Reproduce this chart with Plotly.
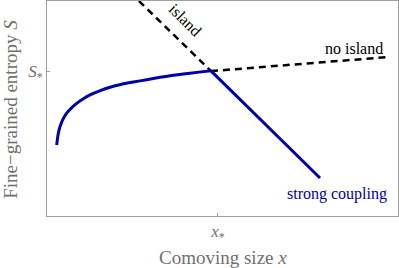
import plotly.graph_objects as go

# Blue curve (weak coupling growth)
curve_x = [0.276, 0.30, 0.33, 0.370, 0.45, 0.561, 0.70, 0.846, 1.025, 1.225, 1.50, 1.795, 2.10, 2.459, 2.84, 3.219, 3.55, 3.883, 4.27, 4.664]
curve_y = [3.30, 3.62, 3.90, 4.15, 4.48, 4.78, 5.03, 5.24, 5.44, 5.63, 5.82, 5.99, 6.12, 6.23, 6.34, 6.45, 6.53, 6.60, 6.68, 6.76]
# Strong coupling line
strong_x = [4.664, 7.778]
strong_y = [6.76, 1.77]
# Island dashed line
island_x = [2.62, 4.672]
island_y = [10.0, 6.74]
# No island dashed line
noisland_x = [4.672, 9.772]
noisland_y = [6.74, 7.40]

x_star = 4.87
s_star = 6.74

BLUE = "#0000AA"
GRAY = "#707070"
FONT = "Liberation Serif"

fig = go.Figure()
fig.add_trace(go.Scatter(x=island_x, y=island_y, mode="lines",
                         line=dict(color="black", width=2.5, dash="7px,5px")))
fig.add_trace(go.Scatter(x=noisland_x, y=noisland_y, mode="lines",
                         line=dict(color="black", width=2.5, dash="7px,5px")))
fig.add_trace(go.Scatter(x=curve_x, y=curve_y, mode="lines",
                         line=dict(color=BLUE, width=3, shape="spline", smoothing=0.3)))
fig.add_trace(go.Scatter(x=strong_x, y=strong_y, mode="lines",
                         line=dict(color=BLUE, width=3)))

axis_common = dict(showgrid=False, zeroline=False, showline=True, mirror=True,
                   linecolor="#A0A0A0", linewidth=1, ticks="inside", ticklen=3,
                   tickcolor="#A0A0A0", tickfont=dict(family=FONT, size=17, color=GRAY))

fig.update_layout(
    width=399, height=268,
    margin=dict(l=47, r=1, t=1, b=52),
    paper_bgcolor="white", plot_bgcolor="white",
    showlegend=False,
    xaxis=dict(range=[0, 10], tickvals=[x_star], ticktext=["<i>x</i><sub>*</sub>"], **axis_common),
    yaxis=dict(range=[0, 10], tickvals=[s_star], ticktext=["<i>S</i><sub>*</sub>"], **axis_common),
    annotations=[
        dict(xref="paper", yref="paper", x=0.501, y=-0.191, text="Comoving size <i>x</i>",
             showarrow=False, font=dict(family=FONT, size=19, color=GRAY),
             xanchor="center", yanchor="middle"),
        dict(xref="paper", yref="paper", x=-0.103, y=0.498, text="Fine\u2212grained entropy <i>S</i>",
             showarrow=False, textangle=-90, font=dict(family=FONT, size=19, color=GRAY),
             xanchor="center", yanchor="middle"),
        dict(x=8.76, y=7.81, text="no island", showarrow=False,
             font=dict(family=FONT, size=16, color="black")),
        dict(x=8.26, y=1.02, text="strong coupling", showarrow=False,
             font=dict(family=FONT, size=16, color=BLUE)),
        dict(x=3.92, y=9.12, text="island", showarrow=False, textangle=45,
             font=dict(family=FONT, size=16, color="black")),
    ],
)

fig.write_html("out.html", config={"displayModeBar": False},
               post_script="document.body.style.margin='0px';document.body.style.padding='0px';")
